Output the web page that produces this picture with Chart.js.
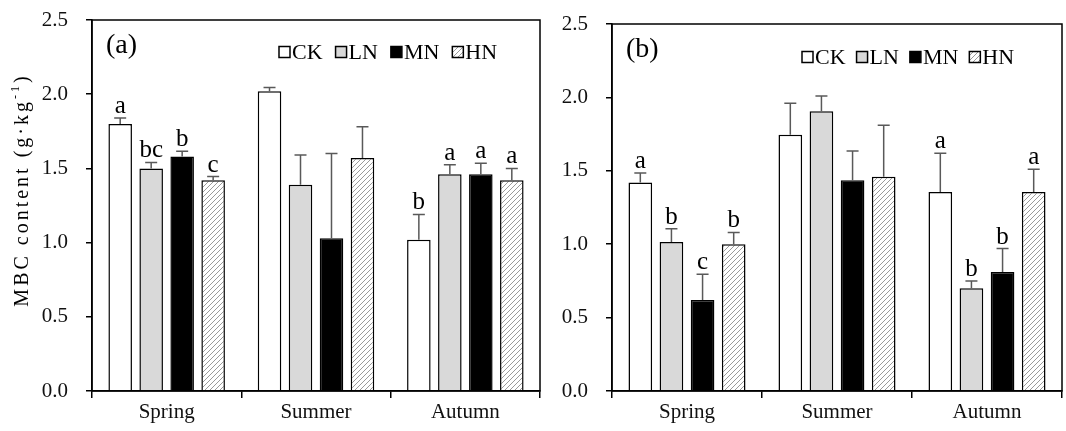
<!DOCTYPE html>
<html>
<head>
<meta charset="utf-8">
<script src="https://cdn.jsdelivr.net/npm/chart.js@4.4.1/dist/chart.umd.min.js"></script>
<style>
  body { margin: 0; background: #fff; }
  .panel { position: absolute; top: 0; height: 431px; }
  #wrapA { left: 0; width: 545px; }
  #wrapB { left: 545px; width: 521px; }
</style>
</head>
<body>
<div class="panel" id="wrapA"><canvas id="chartA"></canvas></div>
<div class="panel" id="wrapB"><canvas id="chartB"></canvas></div>
<script>
// seasons & treatments
const seasons = ["Spring", "Summer", "Autumn"];
const treatments = ["CK", "LN", "MN", "HN"];
const yTicks = [0, 0.5, 1.0, 1.5, 2.0, 2.5];

// panel (a): means per treatment (Spring, Summer, Autumn)
const meansA = [
  [1.80, 2.02, 1.02],
  [1.50, 1.39, 1.46],
  [1.58, 1.03, 1.46],
  [1.42, 1.57, 1.42]
];
const errA = [
  [0.04, 0.025, 0.17],
  [0.04, 0.20, 0.065],
  [0.035, 0.57, 0.075],
  [0.025, 0.21, 0.08]
];
const lettersA = [
  ["a", "", "b"],
  ["bc", "", "a"],
  ["b", "", "a"],
  ["c", "", "a"]
];

// panel (b)
const meansB = [
  [1.42, 1.745, 1.355],
  [1.015, 1.905, 0.70],
  [0.62, 1.435, 0.81],
  [1.00, 1.46, 1.355]
];
const errB = [
  [0.065, 0.215, 0.265],
  [0.09, 0.105, 0.05],
  [0.175, 0.20, 0.16],
  [0.08, 0.35, 0.155]
];
const lettersB = [
  ["a", "", "a"],
  ["b", "", "b"],
  ["c", "", "b"],
  ["b", "", "a"]
];

const SERIF = "'Liberation Serif', 'Times New Roman', serif";

function hatch() {
  const c = document.createElement("canvas");
  c.width = 5; c.height = 5;
  const g = c.getContext("2d");
  g.fillStyle = "#fff";
  g.fillRect(0, 0, 5, 5);
  g.strokeStyle = "#9a9a9a";
  g.lineWidth = 1;
  g.beginPath();
  g.moveTo(-1, 6); g.lineTo(6, -1);
  g.moveTo(-3.5, 3.5); g.lineTo(3.5, -3.5);
  g.moveTo(1.5, 8.5); g.lineTo(8.5, 1.5);
  g.stroke();
  return g.createPattern(c, "repeat");
}

const fills = ["#ffffff", "#d9d9d9", "#000000", hatch()];

// error bars + significance letters
const errPlugin = {
  id: "errbars",
  afterDatasetsDraw(chart, args, opts) {
    const ctx = chart.ctx;
    const ys = chart.scales.y;
    ctx.save();
    chart.data.datasets.forEach((ds, i) => {
      const meta = chart.getDatasetMeta(i);
      meta.data.forEach((bar, j) => {
        const top = ys.getPixelForValue(ds.data[j] + opts.err[i][j]);
        ctx.strokeStyle = "#595959";
        ctx.lineWidth = 1.5;
        ctx.beginPath();
        ctx.moveTo(bar.x, bar.y);
        ctx.lineTo(bar.x, top);
        ctx.moveTo(bar.x - 6, top);
        ctx.lineTo(bar.x + 6, top);
        ctx.stroke();
        const l = opts.letters[i][j];
        if (l) {
          ctx.fillStyle = "#000";
          ctx.font = "25px " + SERIF;
          ctx.textAlign = "center";
          ctx.textBaseline = "alphabetic";
          ctx.fillText(l, bar.x, top - 5);
        }
      });
    });
    ctx.restore();
  }
};

// frame, legend, panel tag, y title
const decoPlugin = {
  id: "deco",
  afterDraw(chart, args, opts) {
    const ctx = chart.ctx;
    const a = chart.chartArea;
    ctx.save();
    ctx.strokeStyle = "#000";
    ctx.lineWidth = 1.5;
    ctx.strokeRect(a.left, a.top, a.right - a.left, a.bottom - a.top);

    ctx.fillStyle = "#000";
    ctx.font = "28px " + SERIF;
    ctx.textBaseline = "middle";
    ctx.textAlign = "left";
    ctx.fillText(opts.tag, a.left + 14, opts.tagY);

    // legend
    let x = opts.legX;
    const y = opts.legY;
    ctx.font = "22px " + SERIF;
    chart.data.datasets.forEach((ds) => {
      ctx.fillStyle = ds.backgroundColor;
      ctx.fillRect(x, y - 5.5, 11, 11);
      ctx.strokeStyle = "#000";
      ctx.lineWidth = 1.5;
      ctx.strokeRect(x, y - 5.5, 11, 11);
      ctx.fillStyle = "#000";
      ctx.fillText(ds.label, x + 13, y + 1);
      x += 13 + ctx.measureText(ds.label).width + opts.legGap;
    });

    if (opts.yTitle) {
      ctx.translate(22, opts.titleY);
      ctx.rotate(-Math.PI / 2);
      ctx.letterSpacing = "3px";
      const main = "MBC content (g\u00b7kg";
      const sup = "-1";
      const end = ")";
      ctx.font = "20px " + SERIF;
      const w1 = ctx.measureText(main).width;
      const w3 = ctx.measureText(end).width;
      ctx.font = "12px " + SERIF;
      const w2 = ctx.measureText(sup).width;
      let sx = -(w1 + w2 + w3) / 2;
      ctx.textAlign = "left";
      ctx.textBaseline = "alphabetic";
      ctx.font = "20px " + SERIF;
      ctx.fillText(main, sx, 6);
      sx += w1;
      ctx.font = "12px " + SERIF;
      ctx.fillText(sup, sx, -3);
      sx += w2;
      ctx.font = "20px " + SERIF;
      ctx.fillText(end, sx, 6);
    }
    ctx.restore();
  }
};

function makeChart(id, means, errs, letters, cfg) {
  const datasets = treatments.map((t, i) => ({
    label: t,
    data: means[i],
    backgroundColor: fills[i],
    borderColor: "#000",
    borderWidth: 1.5,
    categoryPercentage: 0.83,
    barPercentage: 0.76
  }));
  return new Chart(document.getElementById(id), {
    type: "bar",
    data: { labels: seasons, datasets },
    options: {
      responsive: true,
      maintainAspectRatio: false,
      animation: false,
      layout: { padding: { left: 0, right: cfg.padRight, top: cfg.padTop, bottom: 0 } },
      plugins: {
        legend: { display: false },
        tooltip: { enabled: false },
        errbars: { err: errs, letters },
        deco: cfg.deco
      },
      scales: {
        x: {
          grid: { display: true, drawOnChartArea: false, offset: true, tickLength: 7, color: "#000", lineWidth: 1.5 },
          border: { display: true, color: "#000", width: 1.5 },
          ticks: { color: "#111", font: { family: SERIF, size: 21 }, padding: 2 },
          afterFit: s => { s.height = 40; }
        },
        y: {
          min: 0, max: 2.5,
          afterBuildTicks: s => { s.ticks = yTicks.map(v => ({ value: v })); },
          grid: { display: true, drawOnChartArea: false, tickLength: 6, color: "#000", lineWidth: 1.5 },
          border: { display: true, color: "#000", width: 1.5 },
          ticks: { color: "#111", font: { family: SERIF, size: 21 }, padding: 18, callback: v => v.toFixed(1) },
          afterFit: s => { s.width = cfg.yWidth; s.paddingTop = 0; s.paddingBottom = 0; }
        }
      }
    },
    plugins: [errPlugin, decoPlugin]
  });
}

makeChart("chartA", meansA, errA, lettersA, {
  padRight: 5, padTop: 20, yWidth: 92,
  deco: { tag: "(a)", tagY: 46, legX: 279, legY: 52, legGap: 13, yTitle: true, titleY: 190 }
});
makeChart("chartB", meansB, errB, lettersB, {
  padRight: 4, padTop: 24, yWidth: 67,
  deco: { tag: "(b)", tagY: 50, legX: 257, legY: 57, legGap: 11, yTitle: false }
});
</script>
</body>
</html>
